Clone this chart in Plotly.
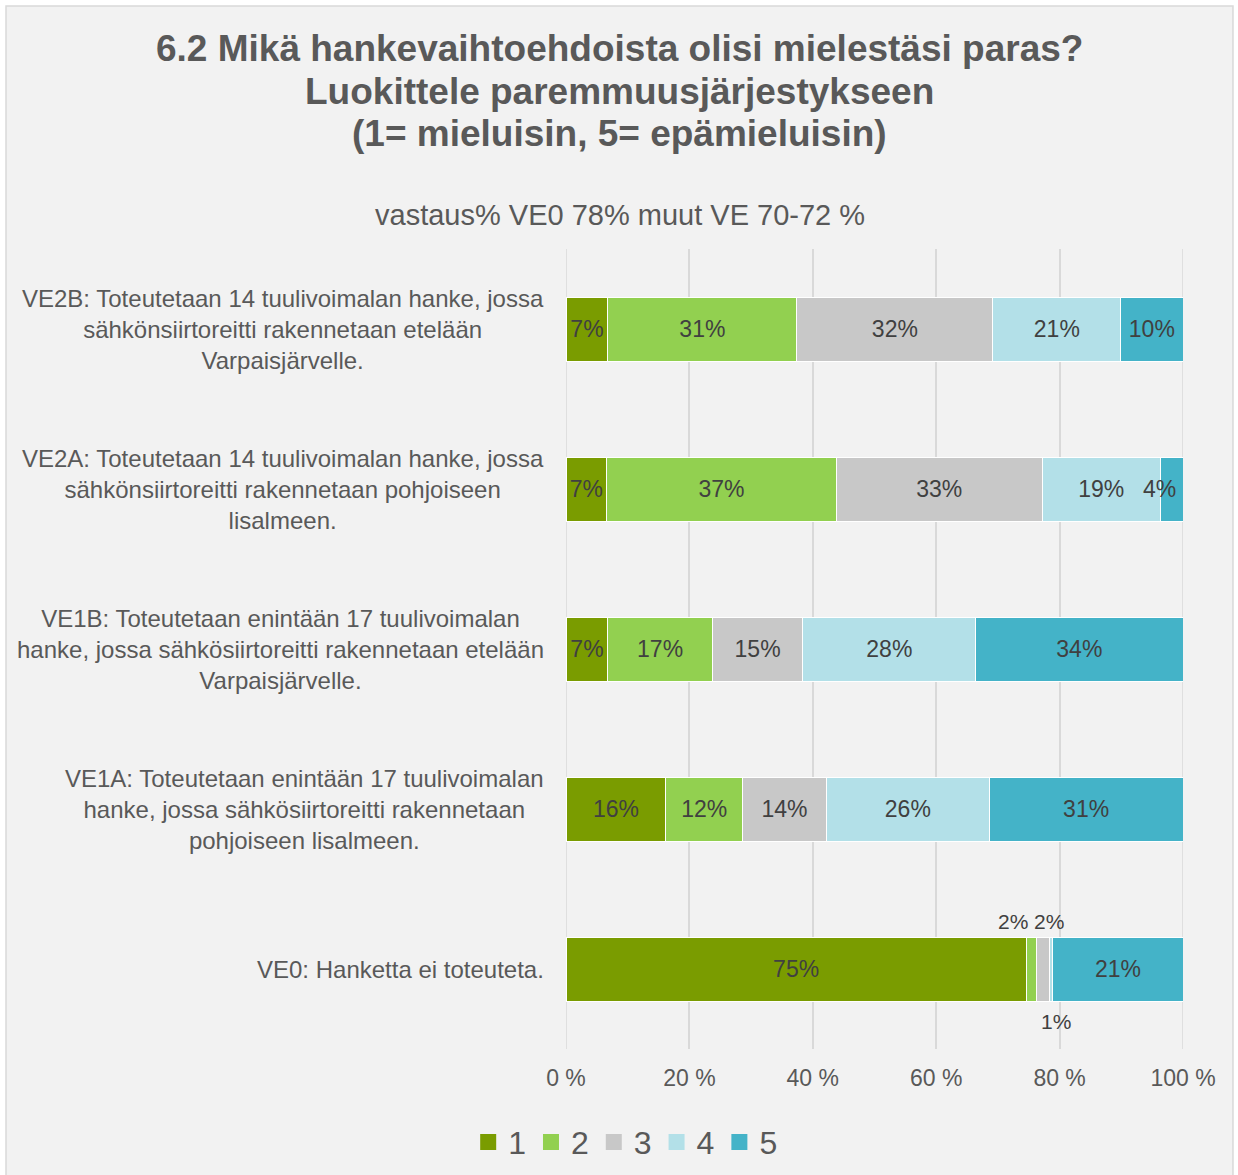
import plotly.graph_objects as go

# Survey answers: share of respondents giving each rank (1 = most preferred, 5 = least)
categories = [
    "VE2B: Toteutetaan 14 tuulivoimalan hanke, jossa<br>sähkönsiirtoreitti rakennetaan etelään<br>Varpaisjärvelle.",
    "VE2A: Toteutetaan 14 tuulivoimalan hanke, jossa<br>sähkönsiirtoreitti rakennetaan pohjoiseen<br>lisalmeen.",
    "VE1B: Toteutetaan enintään 17 tuulivoimalan<br>hanke, jossa sähkösiirtoreitti rakennetaan etelään<br>Varpaisjärvelle.",
    "VE1A: Toteutetaan enintään 17 tuulivoimalan<br>hanke, jossa sähkösiirtoreitti rakennetaan<br>pohjoiseen lisalmeen.",
    "VE0: Hanketta ei toteuteta.",
]
rank_names = ["1", "2", "3", "4", "5"]
rank_1 = [6.8, 6.6, 6.8, 16.2, 74.6]
rank_2 = [30.6, 37.2, 16.9, 12.4, 1.6]
rank_3 = [31.8, 33.4, 14.7, 13.6, 2.1]
rank_4 = [20.7, 19.1, 28.0, 26.4, 0.6]
rank_5 = [10.1, 3.7, 33.6, 31.4, 21.1]
x_ticks = [0, 20, 40, 60, 80, 100]
x_tick_text = ["0 %", "20 %", "40 %", "60 %", "80 %", "100 %"]

title_lines = [
    "6.2 Mikä hankevaihtoehdoista olisi mielestäsi paras?",
    "Luokittele paremmuusjärjestykseen",
    "(1= mieluisin, 5= epämieluisin)",
]
subtitle = "vastaus% VE0 78% muut VE 70-72 %"

series = [rank_1, rank_2, rank_3, rank_4, rank_5]
colors = ["#7a9c00", "#92d050", "#c8c8c8", "#b3e0e8", "#44b3c8"]

FONT = "Liberation Sans, Arial, sans-serif"
TXT = "#595959"
LBL = "#404040"

# Narrow segments whose labels are placed as annotations:
# (row, series) -> (xshift, yshift, font size)
narrow = {
    (1, 4): (-12, 0, 23),
    (4, 1): (-18, 48, 21),
    (4, 2): (6, 48, 21),
    (4, 3): (5, -52, 21),
}

fig = go.Figure()
for s, (vals, col, name) in enumerate(zip(series, colors, rank_names)):
    texts = ["" if (r, s) in narrow else f"{v:.0f}%" for r, v in enumerate(vals)]
    fig.add_trace(go.Bar(
        y=categories, x=vals, orientation="h", name=name,
        marker=dict(color=col, line=dict(color="#ffffff", width=1)),
        text=texts, textposition="inside", insidetextanchor="middle",
        textangle=0, constraintext="none",
        textfont=dict(family=FONT, size=23, color=LBL),
        showlegend=False, hoverinfo="x+name",
    ))
    # legend entry with a larger square swatch
    fig.add_trace(go.Scatter(
        x=[None], y=[None], mode="markers", name=name,
        marker=dict(symbol="square", size=16, color=col),
        showlegend=True,
    ))

annotations = []
# labels of narrow segments, positioned from the cumulative sums
for (r, s), (xs, ys, fs) in narrow.items():
    start = sum(series[k][r] for k in range(s))
    mid = start + series[s][r] / 2
    annotations.append(dict(
        x=mid, y=categories[r], xref="x", yref="y", text=f"{series[s][r]:.0f}%",
        showarrow=False, xshift=xs, yshift=ys,
        font=dict(family=FONT, size=fs, color=LBL),
    ))

# category labels, centred lines, right edge next to the plot
for c in categories:
    annotations.append(dict(
        x=-0.033, y=c, xref="paper", yref="y", text=c, showarrow=False,
        xanchor="right", yanchor="middle", align="center",
        font=dict(family=FONT, size=24, color=TXT),
    ))

# title lines and subtitle
title_y = [1.25125, 1.1975, 1.145]
for line, ty in zip(title_lines, title_y):
    annotations.append(dict(
        x=0.0875, y=ty, xref="paper", yref="paper", text=f"<b>{line}</b>",
        showarrow=False, xanchor="center", yanchor="middle",
        font=dict(family=FONT, size=37, color=TXT),
    ))
annotations.append(dict(
    x=0.0875, y=1.0425, xref="paper", yref="paper", text=subtitle,
    showarrow=False, xanchor="center", yanchor="middle",
    font=dict(family=FONT, size=29, color=TXT),
))

shapes = [dict(
    type="rect", xref="paper", yref="paper",
    x0=-0.9076, x1=1.081, y0=-0.17, y1=1.30375,
    fillcolor="#f2f2f2", line=dict(color="#d9d9d9", width=1.5), layer="below",
)]
# gridlines at the two ends of the value axis
for xv in (x_ticks[0], x_ticks[-1]):
    shapes.append(dict(
        type="line", xref="x", yref="paper", x0=xv, x1=xv, y0=0, y1=1,
        line=dict(color="#d9d9d9", width=1.5), layer="below",
    ))

fig.update_layout(
    width=1238, height=1175,
    margin=dict(l=566, r=55, t=249, b=126),
    paper_bgcolor="#ffffff", plot_bgcolor="rgba(0,0,0,0)",
    barmode="stack", bargap=0.6,
    font=dict(family=FONT, color=TXT),
    annotations=annotations,
    shapes=shapes,
    xaxis=dict(
        range=[0, 100], tickvals=x_ticks, ticktext=x_tick_text,
        showgrid=True, gridcolor="#d9d9d9", gridwidth=1.5, zeroline=False,
        showline=False, ticks="", ticklabelstandoff=13,
        tickfont=dict(family=FONT, size=23, color=TXT),
        fixedrange=True,
    ),
    yaxis=dict(
        categoryorder="array", categoryarray=categories, autorange="reversed",
        showticklabels=False, showgrid=False, zeroline=False, showline=False,
        fixedrange=True,
    ),
    legend=dict(
        orientation="h", xref="container", yref="container", traceorder="normal",
        x=0.505, y=0.028, xanchor="center", yanchor="middle",
        font=dict(family=FONT, size=32, color=TXT),
        bgcolor="rgba(0,0,0,0)", itemclick=False, itemdoubleclick=False,
    ),
)

fig.write_html("out.html")
